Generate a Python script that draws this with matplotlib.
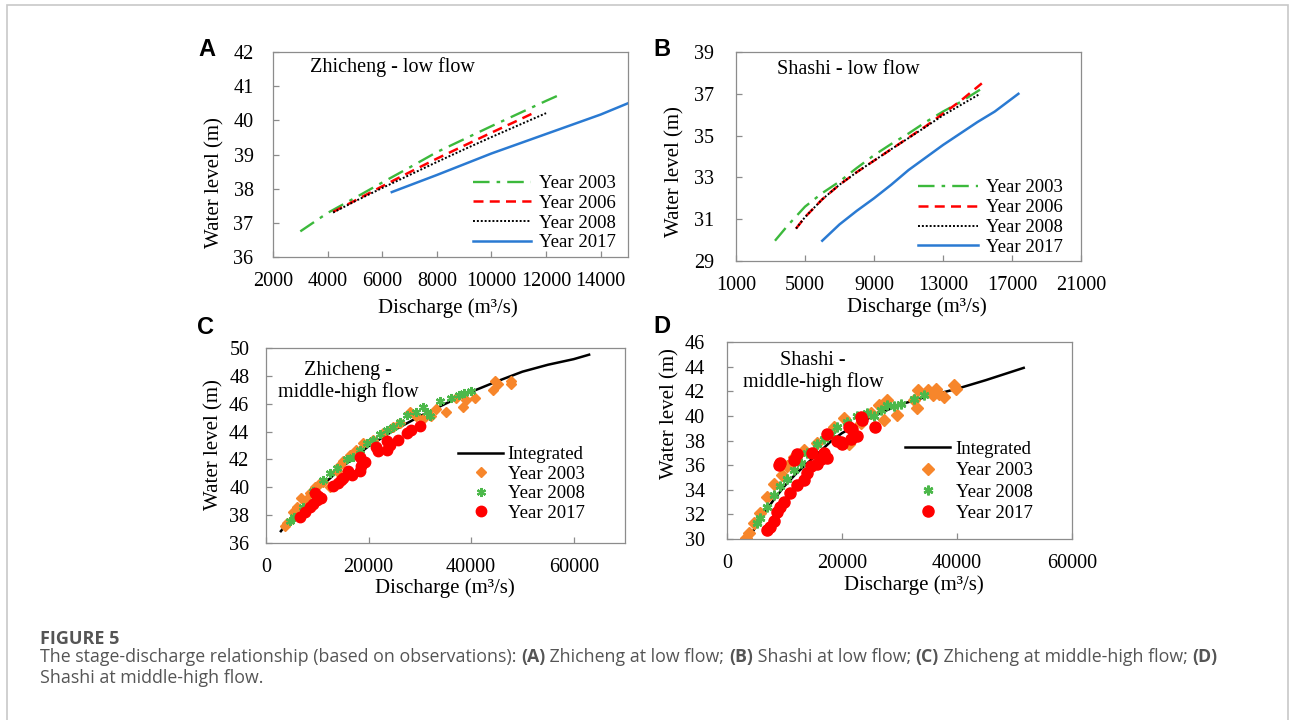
import matplotlib
matplotlib.use("Agg")
import matplotlib.pyplot as plt
from matplotlib.patches import Rectangle

# ---------------- data ----------------
# Panel A: Zhicheng low flow
A_2003_q = [3000, 4000, 5000, 6000, 7000, 8000, 9000, 10000, 11000, 12000, 12450]
A_2003_z = [36.75, 37.29, 37.73, 38.18, 38.62, 39.07, 39.45, 39.83, 40.2, 40.57, 40.73]
A_2006_q = [4200, 5000, 6000, 7000, 8000, 9000, 10000, 11000, 11500]
A_2006_z = [37.32, 37.65, 38.07, 38.48, 38.88, 39.26, 39.64, 40.01, 40.2]
A_2008_q = [4200, 5000, 6000, 7000, 8000, 9000, 10000, 11000, 12000]
A_2008_z = [37.3, 37.63, 38.02, 38.4, 38.78, 39.15, 39.51, 39.86, 40.21]
A_2017_q = [6350, 8000, 10000, 12000, 14000, 15000]
A_2017_z = [37.9, 38.4, 39.03, 39.6, 40.17, 40.5]

# Panel B: Shashi low flow
B_2003_q = [3260, 4000, 5000, 6000, 7000, 8000, 9000, 10000, 11000, 12000, 13000, 14000, 15250]
B_2003_z = [29.97, 30.7, 31.6, 32.25, 32.8, 33.45, 34.06, 34.6, 35.1, 35.65, 36.15, 36.6, 37.25]
B_2006_q = [4480, 5000, 6000, 7000, 8000, 9000, 10000, 11000, 12000, 13000, 14000, 15250]
B_2006_z = [30.55, 31.1, 31.95, 32.65, 33.25, 33.8, 34.35, 34.9, 35.45, 36.05, 36.65, 37.5]
B_2008_q = [4480, 5000, 6000, 7000, 8000, 9000, 10000, 11000, 12000, 13000, 14000, 15150]
B_2008_z = [30.55, 31.1, 31.95, 32.65, 33.25, 33.8, 34.35, 34.88, 35.42, 35.97, 36.45, 37.0]
B_2017_q = [6000, 7000, 8000, 9000, 10000, 11000, 12000, 13000, 14000, 15000, 16000, 17370]
B_2017_z = [29.97, 30.75, 31.4, 32.0, 32.65, 33.35, 33.95, 34.55, 35.1, 35.65, 36.15, 37.0]

# Panel C: Zhicheng middle-high flow
C_int_q = [2900, 5000, 10000, 15000, 20000, 25000, 30000, 35000, 40000, 45000, 50000, 55000, 60000, 63000]
C_int_z = [36.85, 37.8, 39.8, 41.5, 42.95, 44.1, 45.1, 46.0, 46.85, 47.6, 48.3, 48.8, 49.2, 49.52]
C_2003_q = [4000, 5300, 6900, 8560, 9500, 11200, 12450, 13750, 15050, 16300, 17600, 18900, 20900,
            22800, 24800, 26100, 28000, 29300, 30600, 32200, 33200, 35100, 37100, 38400, 39000,
            40700, 44200, 44700, 45200, 47800, 47800, 3700, 6000, 7800, 10300, 14400]
C_2003_z = [37.4, 38.2, 39.2, 39.6, 40.0, 40.4, 40.0, 41.2, 41.9, 42.3, 42.7, 43.2, 43.4,
            43.9, 44.3, 44.6, 45.4, 45.1, 44.9, 45.1, 45.6, 45.4, 46.4, 45.8, 46.3,
            46.4, 47.0, 47.6, 47.4, 47.6, 47.4, 37.2, 38.6, 39.1, 40.2, 41.6]
C_2008_q = [4700, 5500, 7260, 9200, 11150, 12450, 13750, 15700, 17000, 18300, 19600, 20900, 22200,
            23500, 24800, 26100, 27400, 29300, 30600, 31300, 31900, 33900, 36100, 37700, 38700, 40000]
C_2008_z = [37.6, 37.9, 38.6, 39.7, 40.5, 41.0, 41.4, 42.0, 42.2, 42.7, 43.2, 43.4, 43.8,
            44.1, 44.3, 44.7, 45.2, 45.4, 45.8, 45.4, 45.1, 46.2, 46.4, 46.6, 46.8, 46.9]
C_2017_q = [6600, 7600, 8560, 9200, 9860, 10200, 10800, 9500, 13100, 14070, 14700, 15000, 16000,
            16700, 18300, 18600, 18900, 18400, 19300, 21500, 21800, 23500, 24100, 23600, 25700,
            27400, 28300, 30000]
C_2017_z = [37.9, 38.2, 38.6, 38.8, 39.1, 39.4, 39.2, 39.6, 40.1, 40.3, 40.5, 40.7, 41.2,
            40.9, 42.2, 41.5, 41.8, 41.2, 41.8, 42.9, 42.6, 43.3, 43.0, 42.7, 43.4,
            43.9, 44.1, 44.4]

# Panel D: Shashi middle-high flow
D_int_q = [3800, 6000, 8000, 10000, 12000, 15000, 18000, 20000, 25000, 30000, 35000, 40000, 45000, 51600]
D_int_z = [30.05, 31.8, 33.1, 34.3, 35.3, 36.6, 37.9, 38.6, 39.9, 40.9, 41.6, 42.2, 42.9, 43.9]
D_2003_q = [3370, 3780, 4650, 5800, 6980, 8140, 9590, 10470, 11630, 13370, 15700, 18600, 20350,
            21220, 23260, 25000, 26450, 27330, 27900, 29650, 32560, 33140, 33020, 34880, 35760,
            36340, 36920, 37790, 39530, 39830]
D_2003_z = [30.1, 30.5, 31.3, 32.1, 33.4, 34.5, 35.2, 35.9, 36.7, 37.2, 37.8, 39.1, 39.8,
            37.7, 39.4, 40.2, 40.9, 39.7, 41.3, 40.1, 41.3, 42.1, 40.6, 42.1, 41.7,
            42.2, 41.8, 41.5, 42.5, 42.2]
D_2008_q = [5230, 5800, 6980, 8140, 9300, 10470, 11630, 12790, 13950, 15700, 16860, 18020, 19190,
            20930, 22670, 24420, 25580, 26740, 27900, 29070, 30230, 32560, 34300]
D_2008_z = [31.3, 31.7, 32.6, 33.6, 34.3, 34.9, 35.6, 36.2, 37.0, 37.7, 38.1, 38.5, 39.1,
            39.5, 40.0, 40.2, 40.0, 40.5, 40.9, 40.8, 41.0, 41.4, 41.7]
D_2017_q = [7000, 7560, 8140, 8720, 9300, 9880, 11040, 12200, 13370, 13950, 14530, 9000, 9300,
            11600, 12200, 14800, 15700, 16280, 16860, 17440, 17440, 19190, 19770, 20060, 21220,
            21510, 22670, 23260, 23550, 25800, 21800]
D_2017_z = [30.7, 31.0, 31.5, 32.2, 32.6, 33.0, 33.7, 34.4, 34.8, 35.4, 35.9, 36.0, 36.2,
            36.4, 36.9, 37.0, 36.1, 36.5, 37.0, 36.6, 38.5, 38.0, 37.9, 37.7, 39.1,
            38.1, 38.4, 39.9, 39.7, 39.1, 38.9]

# ---------------- style ----------------
W, H = 1293, 720
plt.rcParams['font.family'] = ['Liberation Serif', 'DejaVu Serif']
plt.rcParams['axes.linewidth'] = 0.9

GREEN_L = '#3cb93c'
RED = '#ff0000'
BLUE = '#2a7ad2'
ORANGE = '#f7862b'
GREEN_M = '#4cb84a'
SPINE = '#8c8c8c'
TICK_FS = 14.5
LEG_FS = 13.5

fig = plt.figure(figsize=(W / 100, H / 100), dpi=100)


def px_axes(l, r, t, b):
    return fig.add_axes([l / W, 1 - b / H, (r - l) / W, (b - t) / H])


def style(ax, xlim, xticks, ylim, yticks, ypad, xpad):
    ax.set_xlim(*xlim)
    ax.set_ylim(*ylim)
    ax.set_xticks(xticks)
    ax.set_yticks(yticks)
    for s in ax.spines.values():
        s.set_color(SPINE)
    ax.tick_params(axis='both', direction='in', length=4, width=0.9, color=SPINE,
                   labelsize=TICK_FS)
    ax.tick_params(axis='y', pad=ypad)
    ax.tick_params(axis='x', pad=xpad)
    ax.set_xlabel('Discharge (m³/s)', fontsize=15)
    ax.set_ylabel('Water level (m)', fontsize=15)
    ax.xaxis.label.set_va('center')
    ax.yaxis.label.set_va('center')


# Panel A
axA = px_axes(273, 628, 52, 257)
axA.plot(A_2003_q, A_2003_z, color=GREEN_L, lw=1.7, ls=(0, (7, 3, 1.5, 3)), label='Year 2003')
axA.plot(A_2006_q, A_2006_z, color=RED, lw=1.8, ls=(0, (4, 2.5)), label='Year 2006')
axA.plot(A_2008_q, A_2008_z, color='black', lw=1.4, ls=(0, (1, 1)), label='Year 2008')
axA.plot(A_2017_q, A_2017_z, color=BLUE, lw=1.8, ls='-', label='Year 2017')
style(axA, (2000, 15000), range(2000, 15001, 2000), (36, 42), range(36, 43), 14, 11)
axA.xaxis.set_label_coords(0.493, -0.249)
axA.yaxis.set_label_coords(-0.163, 0.363)
axA.text(0.104, 0.927, 'Zhicheng - low flow', transform=axA.transAxes, fontsize=14.5,
         va='center', ha='left')
axA.legend(loc='upper left', bbox_to_anchor=(0.563, 0.400), frameon=False, fontsize=LEG_FS,
           borderpad=0, borderaxespad=0, handlelength=3.1, handletextpad=0.42,
           labelspacing=0.14)

# Panel B
axB = px_axes(736, 1081, 52, 261)
axB.plot(B_2003_q, B_2003_z, color=GREEN_L, lw=1.7, ls=(0, (7, 3, 1.5, 3)), label='Year 2003')
axB.plot(B_2006_q, B_2006_z, color=RED, lw=1.8, ls=(0, (4, 2.5)), label='Year 2006')
axB.plot(B_2008_q, B_2008_z, color='black', lw=1.4, ls=(0, (1, 1)), label='Year 2008')
axB.plot(B_2017_q, B_2017_z, color=BLUE, lw=1.8, ls='-', label='Year 2017')
style(axB, (1000, 21000), range(1000, 21001, 4000), (29, 39), range(29, 40, 2), 16, 11)
axB.xaxis.set_label_coords(0.525, -0.22)
axB.yaxis.set_label_coords(-0.177, 0.426)
axB.text(0.119, 0.914, 'Shashi - low flow', transform=axB.transAxes, fontsize=14.5,
         va='center', ha='left')
axB.legend(loc='upper left', bbox_to_anchor=(0.528, 0.392), frameon=False, fontsize=LEG_FS,
           borderpad=0, borderaxespad=0, handlelength=3.2, handletextpad=0.42,
           labelspacing=0.15)

# Panel C
STAR = (6, 2, 0)
axC = px_axes(266, 625, 348, 543)
axC.plot(C_int_q, C_int_z, color='black', lw=1.8, label='Integrated')
axC.plot(C_2003_q, C_2003_z, ls='none', marker='D', ms=5.5, color=ORANGE, mec=ORANGE,
         label='Year 2003')
axC.plot(C_2008_q, C_2008_z, ls='none', marker=STAR, ms=6.5, mew=1.6, color=GREEN_M,
         mec=GREEN_M, label='Year 2008')
axC.plot(C_2017_q, C_2017_z, ls='none', marker='o', ms=7.5, color=RED, mec=RED,
         label='Year 2017')
style(axC, (0, 70000), range(0, 60001, 20000), (36, 50), range(36, 51, 2), 12, 11)
axC.xaxis.set_label_coords(0.499, -0.231)
axC.yaxis.set_label_coords(-0.145, 0.503)
axC.text(0.228, 0.828, 'Zhicheng -\nmiddle-high flow', transform=axC.transAxes, fontsize=14.5,
         va='center', ha='center', linespacing=1.15)
axC.legend(loc='upper left', bbox_to_anchor=(0.535, 0.497), frameon=False, fontsize=LEG_FS,
           borderpad=0, borderaxespad=0, handlelength=2.4, handletextpad=0.25,
           labelspacing=0.13)

# Panel D
axD = px_axes(727, 1072, 342, 539)
axD.plot(D_int_q, D_int_z, color='black', lw=1.8, label='Integrated')
axD.plot(D_2003_q, D_2003_z, ls='none', marker='D', ms=6, color=ORANGE, mec=ORANGE,
         label='Year 2003')
axD.plot(D_2008_q, D_2008_z, ls='none', marker=STAR, ms=7, mew=1.8, color=GREEN_M,
         mec=GREEN_M, label='Year 2008')
axD.plot(D_2017_q, D_2017_z, ls='none', marker='o', ms=8, color=RED, mec=RED,
         label='Year 2017')
style(axD, (0, 60000), range(0, 60001, 20000), (30, 46), range(30, 47, 2), 16, 11)
axD.xaxis.set_label_coords(0.542, -0.234)
axD.yaxis.set_label_coords(-0.165, 0.635)
axD.text(0.249, 0.850, 'Shashi -\nmiddle-high flow', transform=axD.transAxes, fontsize=14.5,
         va='center', ha='center', linespacing=1.15)
axD.legend(loc='upper left', bbox_to_anchor=(0.516, 0.498), frameon=False, fontsize=LEG_FS,
           borderpad=0, borderaxespad=0, handlelength=2.4, handletextpad=0.3,
           labelspacing=0.22)

# Panel letters
for lab, x, y in [('A', 207, 50), ('B', 662, 50), ('C', 206, 328), ('D', 662, 327)]:
    fig.text(x / W, 1 - y / H, lab, fontsize=17, fontweight='bold',
             family=['Liberation Sans', 'DejaVu Sans'], ha='center', va='center')

# Outer border
fig.patches.append(Rectangle((7 / W, -0.1), (1288 - 7) / W, 1.1 - 5 / H,
                             transform=fig.transFigure, fill=False, edgecolor='#c8c8c8',
                             lw=1.2, clip_on=False))

# Caption
CAP_COLOR = '#555555'
CAP_FONT = ['Open Sans', 'DejaVu Sans']
fig.text(40 / W, 1 - 644 / H, 'FIGURE 5', fontsize=13, fontweight='bold', family=CAP_FONT,
         color=CAP_COLOR, ha='left', va='baseline')

line1 = [('The stage-discharge relationship (based on observations): ', 'normal'),
         ('(A)', 'bold'), (' Zhicheng at low flow; ', 'normal'),
         ('(B)', 'bold'), (' Shashi at low flow; ', 'normal'),
         ('(C)', 'bold'), (' Zhicheng at middle-high flow; ', 'normal'),
         ('(D)', 'bold')]
renderer = fig.canvas.get_renderer()


def draw_line(pieces, x0, base, size):
    x = x0
    arts = []
    for s, w in pieces:
        t = fig.text(x / W, 1 - base / H, s, fontsize=size, fontweight=w, family=CAP_FONT,
                     color=CAP_COLOR, ha='left', va='baseline')
        bb = t.get_window_extent(renderer)
        x = bb.x1
        arts.append(t)
    return arts, x


arts, xend = draw_line(line1, 40, 662, 11)
size = 11 * (1218 - 40) / (xend - 40)
for a in arts:
    a.remove()
arts, xend = draw_line(line1, 40, 662, size)
draw_line([('Shashi at middle-high flow.', 'normal')], 40, 683, size)

fig.savefig('out.png', dpi=100)
